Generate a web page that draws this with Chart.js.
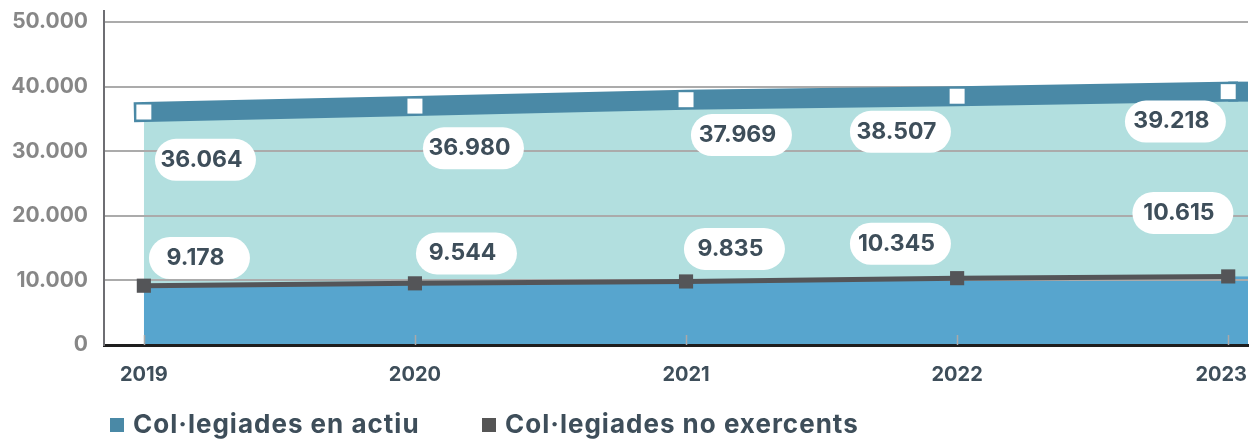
<!DOCTYPE html>
<html>
<head>
<meta charset="utf-8">
<script src="https://cdn.jsdelivr.net/npm/chart.js@4.4.0/dist/chart.umd.min.js"></script>
<style>
  html, body { margin: 0; padding: 0; background: #ffffff; }
  #wrap { width: 1252px; height: 440px; position: relative; }
</style>
</head>
<body>
<div id="wrap"><canvas id="c" width="1252" height="440"></canvas></div>
<script>
// ---- data ----
const years = ['2019', '2020', '2021', '2022', '2023'];
const actiu = [36064, 36980, 37969, 38507, 39218];
const noExercents = [9178, 9544, 9835, 10345, 10615];
const yTicks = [0, 10000, 20000, 30000, 40000, 50000];
const seriesNames = ['Col·legiades en actiu', 'Col·legiades no exercents'];

// ---- styles ----
const FONT = 'Inter';
const bandColor = '#4a89a6';
const tealFill = '#b2dfdf';
const blueFill = '#57a5ce';
const grayLine = '#545558';
const labelText = '#3e4e5a';

const fmt = v => String(v).replace(/\B(?=(\d{3})+(?!\d))/g, '.');

// label pill offsets (pixels from their point)
const topOffsets = [[61.6, 47.8], [58.5, 42.2], [55.4, 35.4], [-56.7, 35.6], [-52.8, 29.9]];
const botOffsets = [[55.6, -27.7], [51.5, -29.9], [48.4, -32.5], [-56.7, -34.4], [-45.3, -63.5]];

function roundRect(ctx, x, y, w, h, r) {
  ctx.beginPath();
  ctx.moveTo(x + r, y);
  ctx.lineTo(x + w - r, y);
  ctx.arc(x + w - r, y + r, r, -Math.PI / 2, Math.PI / 2);
  ctx.lineTo(x + r, y + h);
  ctx.arc(x + r, y + r, r, Math.PI / 2, Math.PI * 1.5);
  ctx.closePath();
}

const decor = {
  id: 'decor',
  beforeDraw(chart) {
    // continue the two filled bands to the right edge of the plot
    const { ctx, chartArea: a, scales: { x, y } } = chart;
    const n = years.length - 1;
    const lx = Math.floor(x.getPixelForValue(n)) - 1;
    const yt = y.getPixelForValue(actiu[n]);
    const yg = y.getPixelForValue(noExercents[n]);
    const y0 = y.getPixelForValue(0);
    ctx.save();
    ctx.fillStyle = tealFill;
    ctx.fillRect(lx, yt, a.right - lx, yg - yt + 1);
    ctx.fillStyle = blueFill;
    ctx.fillRect(lx, yg, a.right - lx, y0 - yg);
    ctx.restore();
  },
  beforeDatasetsDraw(chart) {
    const { ctx, chartArea: a, scales: { x, y } } = chart;
    const n = years.length - 1;
    const lx = x.getPixelForValue(n);
    const yt = y.getPixelForValue(actiu[n]);
    ctx.save();
    ctx.fillStyle = bandColor;
    ctx.fillRect(lx, yt - 10, a.right - lx, 20);
    // small tick marks inside the plot
    ctx.strokeStyle = '#a9a9a9';
    ctx.lineWidth = 1.5;
    years.forEach((_, i) => {
      const px = Math.round(x.getPixelForValue(i)) + 0.5;
      ctx.beginPath();
      ctx.moveTo(px, a.bottom - 10);
      ctx.lineTo(px, a.bottom);
      ctx.stroke();
    });
    ctx.restore();
  },
  afterDatasetsDraw(chart) {
    const { ctx, scales: { x, y } } = chart;
    ctx.save();
    ctx.font = '700 23px ' + FONT;
    ctx.textAlign = 'center';
    ctx.textBaseline = 'middle';
    const draw = (vals, offs) => {
      vals.forEach((v, i) => {
        const cx = x.getPixelForValue(i) + offs[i][0];
        const cy = y.getPixelForValue(v) + offs[i][1];
        const w = 101, h = 42;
        ctx.fillStyle = '#ffffff';
        roundRect(ctx, cx - w / 2, cy - h / 2, w, h, h / 2);
        ctx.fill();
        ctx.fillStyle = labelText;
        ctx.fillText(fmt(v), cx - 4, cy);
      });
    };
    draw(actiu, topOffsets);
    draw(noExercents, botOffsets);
    ctx.restore();
  },
  afterDraw(chart) {
    const { ctx, chartArea: a, scales: { x } } = chart;
    ctx.save();
    // category labels under the axis, kept inside the plot width
    ctx.font = '700 20px ' + FONT;
    ctx.fillStyle = labelText;
    ctx.textAlign = 'center';
    ctx.textBaseline = 'middle';
    years.forEach((yr, i) => {
      const w = ctx.measureText(yr).width;
      const px = Math.min(x.getPixelForValue(i), a.right - w / 2 - 1);
      ctx.fillText(yr, px, a.bottom + 30);
    });
    // legend
    ctx.font = '700 26px ' + FONT;
    try { ctx.letterSpacing = '1px'; } catch (e) {}
    ctx.textAlign = 'left';
    const items = [
      { box: 110, text: 133, color: bandColor },
      { box: 482, text: 505, color: '#555555' }
    ];
    items.forEach((it, i) => {
      ctx.fillStyle = it.color;
      ctx.fillRect(it.box, 418, 14, 14);
      ctx.fillStyle = labelText;
      ctx.fillText(seriesNames[i], it.text, 425);
    });
    ctx.restore();
  }
};

const chart = new Chart(document.getElementById('c'), {
  type: 'line',
  data: {
    datasets: [
      {
        label: seriesNames[0],
        data: actiu.map((v, i) => ({ x: i, y: v })),
        borderColor: bandColor,
        borderWidth: 20,
        borderCapStyle: 'square',
        borderJoinStyle: 'miter',
        backgroundColor: tealFill,
        fill: '+1',
        tension: 0,
        pointStyle: 'rect',
        pointRadius: 10.6,
        pointHoverRadius: 10.6,
        pointBackgroundColor: '#ffffff',
        pointBorderWidth: 0,
        clip: false
      },
      {
        label: seriesNames[1],
        data: noExercents.map((v, i) => ({ x: i, y: v })),
        borderColor: grayLine,
        borderWidth: 5,
        backgroundColor: blueFill,
        fill: 'origin',
        tension: 0,
        pointStyle: 'rect',
        pointRadius: 10,
        pointHoverRadius: 10,
        pointBackgroundColor: grayLine,
        pointBorderWidth: 0
      }
    ]
  },
  options: {
    responsive: false,
    animation: false,
    devicePixelRatio: 1,
    layout: { autoPadding: false, padding: { top: 11, right: 4, left: 0, bottom: 0 } },
    plugins: {
      legend: { display: false },
      tooltip: { enabled: false },
      filler: { drawTime: 'beforeDraw' }
    },
    scales: {
      x: {
        type: 'linear',
        min: -0.147,
        max: 4.073,
        afterBuildTicks: s => { s.ticks = years.map((_, i) => ({ value: i })); },
        afterFit: s => { s.height = 95; s.paddingLeft = 0; s.paddingRight = 0; },
        ticks: { display: false },
        grid: { display: false, drawTicks: false },
        border: { display: true, color: '#1e1e1e', width: 3 }
      },
      y: {
        min: 0,
        max: 51700,
        afterBuildTicks: s => { s.ticks = yTicks.map(v => ({ value: v })); },
        afterFit: s => { s.width = 104; s.paddingTop = 0; s.paddingBottom = 0; },
        ticks: {
          callback: v => fmt(v),
          font: { family: FONT, size: 21, weight: '700' },
          color: '#878787',
          padding: 16
        },
        grid: { color: '#ababab', lineWidth: 2, drawTicks: false },
        border: { display: true, color: '#6e6e73', width: 2 }
      }
    }
  },
  plugins: [decor]
});
</script>
</body>
</html>
